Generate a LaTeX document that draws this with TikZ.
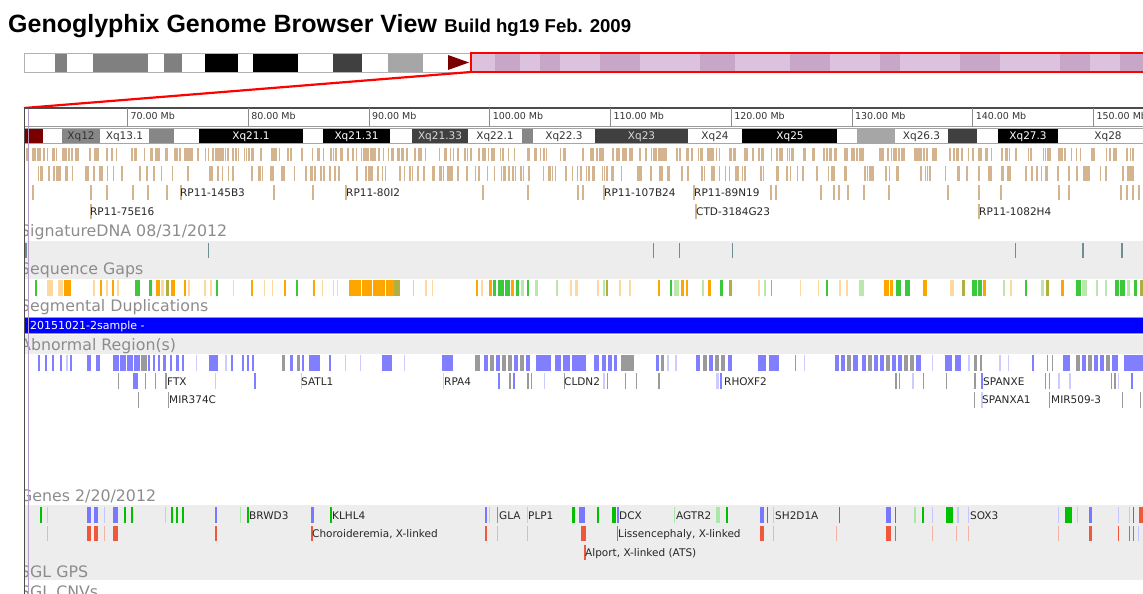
\documentclass[tikz,border=0pt]{standalone}
\usepackage{fontspec}
\setmainfont{Liberation Sans}
\newfontfamily\trackfont{DejaVu Sans}
\usetikzlibrary{positioning}

\definecolor{labelgrey}{HTML}{8C8C8C}
\definecolor{trackgrey}{HTML}{EDEDED}
\definecolor{clonetan}{HTML}{D4B48E}
\definecolor{bandred}{HTML}{7A0000}
\definecolor{selpink}{HTML}{DCC2DC}
\definecolor{selpinkdk}{HTML}{C8A6C8}
\definecolor{sigtick}{HTML}{6F8D95}
\definecolor{segblue}{HTML}{0000FF}
\definecolor{purpleline}{HTML}{B89CC8}
\definecolor{gapO}{HTML}{FFA500}
\definecolor{gapo}{HTML}{FFD8A0}
\definecolor{gapG}{HTML}{3CC83C}
\definecolor{gapg}{HTML}{B8E8AC}
\definecolor{gapY}{HTML}{B0B040}
\definecolor{abB}{HTML}{7F7FFF}
\definecolor{abG}{HTML}{9A9A9A}
\definecolor{abL}{HTML}{CCCCFF}
\definecolor{gnG}{HTML}{00C000}
\definecolor{gng}{HTML}{A8E8A8}
\definecolor{gnB}{HTML}{7878FF}
\definecolor{gnb}{HTML}{C4C4FF}
\definecolor{gnT}{HTML}{5FA8A0}
\definecolor{gnR}{HTML}{F0583C}
\definecolor{gnr}{HTML}{F4B4A4}

\tikzset{
  tracklabel/.style={anchor=base west,inner sep=0pt,text=labelgrey,font=\trackfont\fontsize{15.8}{17}\selectfont},
  featlabel/.style={anchor=base west,inner sep=0pt,text=black!85,font=\trackfont\fontsize{10.5}{12}\selectfont},
  mblabel/.style={anchor=base west,inner sep=0pt,text=black!80,font=\trackfont\fontsize{9.5}{10}\selectfont},
  bandlabel/.style={anchor=base,inner sep=0pt,font=\trackfont\fontsize{10.5}{12}\selectfont},
}

\begin{document}
\begin{tikzpicture}[x=1pt,y=-1pt]
\useasboundingbox (0,0) rectangle (1143,594);

% title
\node[anchor=base west,inner sep=0pt,font=\bfseries\fontsize{25}{28}\selectfont] (title) at (8,33) {Genoglyphix Genome Browser View};
\node[anchor=base west,inner sep=0pt,font=\bfseries\fontsize{18.6}{20}\selectfont] (build) at ([xshift=7pt]title.base east) {Build hg19 Feb. 2009};

% chromosome ideogram
\foreach \a/\b/\c in {24/55/white,55/67/black!50,67/93/white,93/148/black!50,148/164/white,
  164/182/black!50,182/205/white,205/238/black,238/253/white,253/298/black,298/333/white,
  333/362/black!75,362/388/white,388/423/black!35,423/471/white}
  \fill[\c] (\a,53) rectangle (\b,72);
\draw[black!30] (24,53) rectangle (471,72);
\fill[bandred] (448,55) -- (448,70) -- (469,62.5) -- cycle;

% selected region
\fill[selpink] (471,53) rectangle (1150,72);
\foreach \a/\b in {495/520,540/560,600/640,700/735,790/830,880/900,960/1000,1060/1090,1120/1143}
  \fill[selpinkdk] (\a,53) rectangle (\b,72);
\draw[red,line width=2] (471,53) rectangle (1150,72);
\coordinate (selcorner) at (471,72);
\coordinate (panelcorner) at (24,108);
\draw[red,line width=2.2] (selcorner) -- (panelcorner);

\begin{scope}
\clip (24,100) rectangle (1143,600);

% track backgrounds
\fill[trackgrey] (24,241) rectangle (1150,279);
\fill[trackgrey] (24,335) rectangle (1150,354);
\fill[trackgrey] (24,505) rectangle (1150,580);

% ruler
\draw[black!70,line width=1.5] (24,108) -- (1150,108);
\draw[black!40] (24,126) -- (1150,126);
\foreach \k in {0,...,8}{
  \pgfmathsetmacro\tx{127.3+120.75*\k}
  \pgfmathtruncatemacro\mb{70+10*\k}
  \draw[black!45] (\tx,108) -- (\tx,126);
  \node[mblabel] (mb\k) at (\tx+3,119) {\mb.00 Mb};
}

% cytobands
\foreach \a/\b/\c in {25/43/bandred,43/62/white,62/100/black!47,100/149/white,149/174/black!47,
  174/199/white,199/303/black,303/323/white,323/390/black,390/412/white,412/468/black!75,
  468/522/white,522/533/black!47,533/595/white,595/688/black!75,688/742/white,742/837/black,
  837/857/white,857/895/black!35,895/948/white,948/977/black!75,977/998/white,998/1058/black,
  1058/1150/white}
  \fill[\c] (\a,128) rectangle (\b,143);
\draw[black!35] (24,128) -- (1150,128) (24,143) -- (1150,143);
\foreach \x/\t/\tc in {81/Xq12/black!80,124.5/Xq13.1/black!80,251/Xq21.1/white,356.5/Xq21.31/white,
  440/Xq21.33/black!15,495/Xq22.1/black!80,564/Xq22.3/black!80,641.5/Xq23/black!15,715/Xq24/black!80,
  790/Xq25/white,921.5/Xq26.3/black!80,1028/Xq27.3/white,1108/Xq28/black!80}
  \node[bandlabel,text=\tc] (band\t) at (\x,139.5) {\t};

% clone track
\pgfmathsetseed{11}
\foreach \k in {1,...,340}{
  \pgfmathsetmacro\xx{26+1117*rnd}
  \pgfmathsetmacro\ww{1.1+1.3*rnd}
  \fill[clonetan] (\xx,148) rectangle ++(\ww,13);
}
\foreach \k in {1,...,210}{
  \pgfmathsetmacro\xx{26+1117*rnd}
  \pgfmathsetmacro\ww{1.1+1.3*rnd}
  \fill[clonetan] (\xx,166) rectangle ++(\ww,15);
}
\foreach \x in {32,90,106,132,147,166,180,273,312,345,482,527,577,582,603,693,770,775,
  820,833,838,847,863,888,947,978,1000,1058,1068,1120,1126,1132,1138}
  \fill[clonetan] (\x,185) rectangle ++(2,15);
\foreach \x in {90,695,978}
  \fill[clonetan] (\x,204) rectangle ++(2,15);
\foreach \x/\t in {180/RP11-145B3,346/RP11-80I2,604/RP11-107B24,694/RP11-89N19}
  \node[featlabel] (clone\x) at (\x,196) {\t};
\foreach \x/\t in {90/RP11-75E16,696/CTD-3184G23,979/RP11-1082H4}
  \node[featlabel] (clone\x) at (\x,215) {\t};

% SignatureDNA
\node[tracklabel] (sigdna) at (20,236) {SignatureDNA 08/31/2012};
\foreach \x/\w in {25/2,208/1,653/1.2,679/1.2,732/1.2,1015/1.2,1082/2,1121/1.5}
  \fill[sigtick] (\x,243) rectangle ++(\w,15);

% sequence gaps
\node[tracklabel] (seqgaps) at (20,274) {Sequence Gaps};
\foreach \x/\w/\c in {35/2/gapG,47/6/gapo,58/5/gapo,64/7/gapO,93/2/gapo,100/2/gapO,106/2/gapo,
  112/2/gapO,117/2/gapo,135/5/gapG,149/3/gapG,156/4/gapO,161/3/gapo,166/3/gapY,171/4/gapO,
  184/2/gapO,188/2/gapo,204/2/gapo,210/2/gapo,216/2/gapG,233/1/gapo,251/2/gapO,264/1/gapo,
  272/1/gapo,284/2/gapO,296/2/gapG,313/2/gapO,322/1/gapo,333/1/gapo,337/1/gapo,349/12/gapO,
  362/10/gapO,373/12/gapO,386/8/gapO,394/6/gapY,413/1/gapg,425/2/gapo,432/1/gapo,476/2/gapO,
  481/2/gapo,489/3/gapO,493/3/gapG,498/6/gapG,505/5/gapG,511/3/gapO,516/3/gapG,521/3/gapg,
  527/2/gapG,535/3/gapg,556/2/gapg,570/2/gapo,575/3/gapo,597/2/gapo,603/2/gapg,606/2/gapY,
  619/2/gapo,629/2/gapo,658/2/gapO,670/2/gapG,674/5/gapg,681/3/gapO,686/2/gapO,702/2/gapg,
  708/3/gapO,720/3/gapG,729/3/gapY,758/2/gapo,764/2/gapg,771/1/gapY,800/1/gapo,818/1/gapo,
  826/2/gapG,839/2/gapo,846/2/gapo,859/5/gapg,884/5/gapO,890/3/gapO,896/5/gapG,905/5/gapG,
  923/4/gapO,950/4/gapo,962/3/gapY,972/5/gapG,978/4/gapG,983/3/gapO,1003/2/gapg,1010/2/gapo,
  1025/2/gapG,1041/3/gapg,1046/3/gapY,1061/3/gapO,1076/5/gapG,1082/5/gapg,1096/2/gapg,
  1105/2/gapg,1115/4/gapG,1120/5/gapG,1127/3/gapg,1134/3/gapG,1140/3/gapY}
  \fill[\c] (\x,280) rectangle ++(\w,16);

% segmental duplications
\node[tracklabel] (segdup) at (20,311) {Segmental Duplications};
\fill[segblue] (24,317) rectangle (1150,333);
\draw[blue!45] (24,317) -- (1150,317) (24,333) -- (1150,333);
\node[anchor=base west,inner sep=0pt,text=white,font=\trackfont\fontsize{11}{12}\selectfont] (sample) at (30,329) {20151021-2sample -};

% abnormal regions
\node[tracklabel] (abnormal) at (20,350) {Abnormal Region(s)};
\foreach \x/\w/\c in {38/2/abB,45/2/abB,52/2/abB,60/2/abB,66/2/abL,70/2/abB,87/4/abB,96/4/abB,
  113/6/abB,120/6/abB,127/6/abB,134/6/abB,141/6/abG,148/2/abB,153/2/abB,158/2/abB,163/3/abB,
  170/2/abB,176/3/abB,182/2/abB,196/1/abL,209/9/abB,225/2/abL,231/2/abB,242/2/abB,247/2/abB,
  252/2/abB,282/3/abG,290/3/abB,297/3/abG,302/2/abB,309/11/abB,329/2/abB,345/1/abL,360/1/abL,
  382/10/abB,404/1/abL,442/11/abB,475/5/abG,484/4/abB,490/4/abG,496/4/abB,502/4/abG,508/4/abG,
  514/4/abB,520/4/abG,526/4/abB,536/15/abB,555/6/abB,563/7/abB,572/14/abB,594/5/abB,602/4/abB,
  608/4/abB,614/3/abB,621/13/abG,656/3/abB,661/3/abG,667/2/abL,675/2/abL,696/4/abB,703/4/abG,
  709/4/abB,715/4/abG,721/4/abG,728/4/abB,758/8/abB,769/10/abB,795/1/abG,804/1/abL,835/4/abB,
  841/4/abB,847/4/abG,853/5/abB,862/4/abB,868/4/abG,874/4/abB,880/4/abB,886/4/abG,892/4/abB,
  898/4/abB,904/4/abG,910/4/abG,916/5/abB,932/1/abL,945/7/abB,955/6/abB,968/2/abL,974/3/abG,
  980/2/abG,999/2/abL,1008/1/abL,1032/2/abB,1047/1/abG,1052/1/abG,1063/7/abB,1076/4/abG,
  1082/4/abB,1088/4/abG,1094/4/abB,1100/4/abB,1106/4/abG,1112/6/abB,1124/19/abB}
  \fill[\c] (\x,355) rectangle ++(\w,16);
\foreach \x/\w/\c in {118/1/abG,133/5/abB,145/1/abG,155/1/abG,165/2/abG,215/1/abL,254/2/abB,
  301/1/abL,443/1/abL,498/2/abB,509/2/abG,513/2/abB,527/2/abG,531/1/abG,544/1/abL,564/1/abG,
  603/2/abL,607/1/abG,625/1/abG,636/1/abG,658/2/abG,716/3/abL,720/2/abB,895/2/abG,899/1/abG,
  912/2/abL,923/1/abG,946/1/abG,974/2/abG,981/2/abB,1045/1/abG,1049/1/abG,1058/2/abL,
  1069/2/abL,1111/1/abG,1114/2/abG,1118/1/abL,1131/2/abB}
  \fill[\c] (\x,373) rectangle ++(\w,16);
\foreach \x/\w/\c in {138/1/abG,168/1/abG,974/1/abG,981/2/abL,1049/1/abG,1122/1/abG,1140/1/abG}
  \fill[\c] (\x,392) rectangle ++(\w,16);
\foreach \x/\t in {167/FTX,301/SATL1,444/RPA4,564/CLDN2,724/RHOXF2,983/SPANXE}
  \node[featlabel] (abn\t) at (\x,385) {\t};
\foreach \x/\t in {169/MIR374C,982/SPANXA1,1051/MIR509-3}
  \node[featlabel] (abn\t) at (\x,403) {\t};

% genes
\node[tracklabel] (genes) at (20,501) {Genes 2/20/2012};
\foreach \x/\w/\c in {40/2/gnG,47/1/gnb,87/4/gnB,94/4/gnB,104/1/gnb,113/5/gnB,124/2/gnG,
  131/2/gnG,165/1/gng,171/2/gnG,176/2/gnG,182/2/gnG,215/2/gnB,240/1/gng,247/2/gnG,311/3/gnB,
  330/2/gnG,485/2/gnB,489/1/gng,497/1/gnT,527/1/gnb,572/3/gnG,579/6/gnB,597/2/gnG,612/4/gnG,
  617/2/gnB,674/1/gng,716/4/gng,726/2/gnG,760/4/gnB,767/1/gnG,773/1/gnb,839/1/gnG,886/5/gnB,
  895/1/gnG,914/2/gng,922/2/gnG,932/1/gnb,946/7/gnG,957/2/gnb,968/1/gnb,1058/1/gnb,
  1065/7/gnG,1077/1/gng,1089/3/gnB,1118/1/gnb,1129/1/gnb,1133/1/gnG,1139/4/gnR}
  \fill[\c] (\x,507) rectangle ++(\w,16);
\foreach \x/\w/\c in {47/1/gnr,87/4/gnR,94/4/gnR,104/1/gnr,113/5/gnR,215/2/gnR,311/2/gnR,
  485/2/gnR,497/1/gnr,527/1/gnr,581/5/gnR,617/1/gnR,760/4/gnR,773/1/gnr,836/1/gnr,886/5/gnR,
  895/1/gnR,932/1/gnr,956/1/gnr,968/1/gnr,1058/1/gnr,1089/3/gnR,1118/1/gnR,1129/1/gnR,
  1133/1/gnR,1138/1/gnb}
  \fill[\c] (\x,526) rectangle ++(\w,15);
\fill[gnR] (584,545) rectangle ++(2,15);
\foreach \x/\t in {249/BRWD3,332/KLHL4,499/GLA,528/PLP1,619/DCX,676/AGTR2,775/SH2D1A,970/SOX3}
  \node[featlabel] (gene\t) at (\x,519) {\t};
\node[featlabel] (chm) at (312,537) {Choroideremia, X-linked};
\node[featlabel] (liss) at (618,537) {Lissencephaly, X-linked};
\node[featlabel] (alport) at (585,556) {Alport, X-linked (ATS)};

% SGL tracks
\node[tracklabel] (sglgps) at (20,577) {SGL GPS};
\node[tracklabel] (sglcnv) at (20,597) {SGL CNVs};
\end{scope}

% panel left edge
\draw[black!70,line width=1.6] (24.5,108) -- (24.5,600);
\draw[purpleline,line width=1] (28.5,109) -- (28.5,600);
\end{tikzpicture}
\end{document}
